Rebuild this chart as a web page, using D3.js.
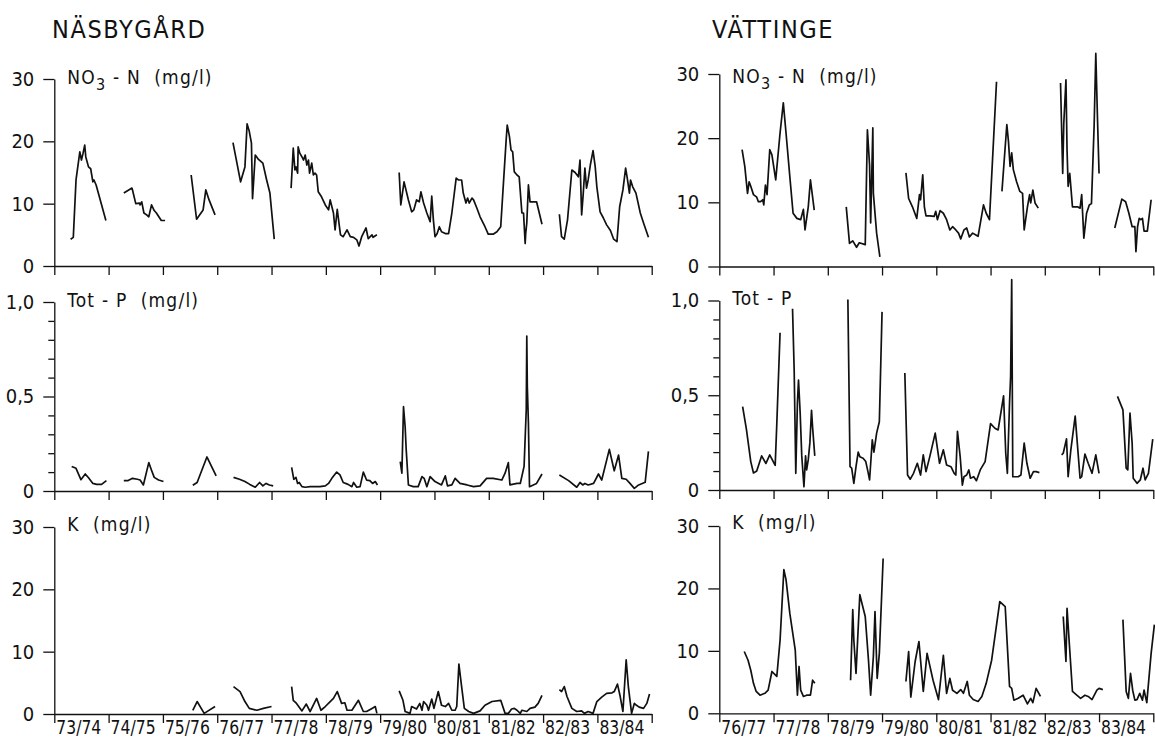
<!DOCTYPE html>
<html>
<head>
<meta charset="utf-8">
<title>Näsbygård / Vättinge</title>
<script src="https://d3js.org/d3.v7.min.js"></script>
<style>
  body { margin: 0; background: #fff; }
  svg text { font-family: "DejaVu Sans Condensed", "Liberation Sans Narrow", "DejaVu Sans", sans-serif; fill: #111; }
  .axis path, .axis line { stroke: #111; stroke-width: 1.3; }
  .series { fill: none; stroke: #111; stroke-width: 1.7; stroke-linejoin: round; }
  .plabel { white-space: pre; }
</style>
</head>
<body>
<script>
// seasons (t = years since start of 73/74)
var seasonsN = ["73/74","74/75","75/76","76/77","77/78","78/79","79/80","80/81","81/82","82/83","83/84"];
var seasonsV = ["76/77","77/78","78/79","79/80","80/81","81/82","82/83","83/84"];

var concTicks = [0, 10, 20, 30];
var concLabels = ["0", "10", "20", "30"];
var pTicks = [0, 0.5, 1];
var pLabels = ["0", "0,5", "1,0"];
var pMinor = [0.1, 0.2, 0.3, 0.4, 0.6, 0.7, 0.8, 0.9];

// Näsbygård NO3-N (mg/l), segments of [t, value]
var nasNO3 = [
  [[0.30,4.3],[0.35,4.6],[0.40,13.8],[0.47,18.3],[0.50,17],[0.53,18.1],[0.56,19.4],[0.58,17.5],[0.63,15.9],[0.67,15.6],[0.71,13.5],[0.73,13.8],[0.77,13],[0.95,7.3]],
  [[1.28,11.7],[1.43,12.5],[1.44,12.2],[1.50,10.0],[1.57,10.1],[1.58,9.8],[1.61,10.3],[1.65,8.5],[1.70,8.2],[1.74,7.9],[1.79,9.8],[1.84,8.9],[1.88,8.5],[1.97,7.3],[2.04,7.3]],
  [[2.52,14.6],[2.62,7.5],[2.74,9.0],[2.79,12.2],[2.85,10.6],[2.96,8.2]],
  [[3.29,19.8],[3.43,13.5],[3.51,15.9],[3.55,22.8],[3.59,21.6],[3.63,19.7],[3.65,10.8],[3.70,17.8],[3.76,17.1],[3.84,16.5],[3.91,13.8],[3.97,11.7],[4.05,4.3]],
  [[4.36,12.5],[4.40,18.9],[4.43,15.4],[4.45,15.9],[4.48,14.9],[4.49,19.1],[4.52,18.1],[4.56,17.5],[4.59,17.0],[4.62,17.8],[4.65,16.2],[4.68,17.0],[4.70,14.9],[4.74,16.5],[4.77,14.6],[4.80,14.9],[4.83,14.6],[4.86,11.9],[4.92,11.1],[4.99,9.8],[5.05,9.0],[5.08,10.6],[5.14,8.5],[5.17,5.8],[5.21,9.1],[5.25,6.3],[5.27,5.0],[5.32,4.7],[5.39,5.8],[5.45,4.7],[5.51,4.6],[5.57,4.2],[5.61,3.2],[5.66,4.7],[5.74,6.1],[5.78,4.4],[5.85,5.0],[5.87,4.6],[5.94,5.0]],
  [[6.35,15.0],[6.38,9.8],[6.44,13.5],[6.52,10.6],[6.58,8.7],[6.62,9.0],[6.67,10.6],[6.72,10.3],[6.75,11.9],[6.80,10.1],[6.86,8.5],[6.92,7.1],[6.95,11.2],[6.98,7.4],[7.01,4.7],[7.05,5.2],[7.09,6.3],[7.13,5.5],[7.20,5.2],[7.26,5.2],[7.32,8.5],[7.40,14.1],[7.44,13.8],[7.47,13.8],[7.50,13.8],[7.53,11.7],[7.58,10.1],[7.61,10.9],[7.64,10.1],[7.69,10.9],[7.72,10.6],[7.78,9.3],[7.84,7.9],[7.93,6.3],[7.99,5.1],[8.08,5.1],[8.15,5.5],[8.22,6.3],[8.27,13.3],[8.32,20.2],[8.34,22.6],[8.38,20.8],[8.41,18.6],[8.44,18.3],[8.47,15.1],[8.52,14.6],[8.56,14.3],[8.61,8.5],[8.64,8.5],[8.67,3.6],[8.68,5.2],[8.70,6.9],[8.73,13.0],[8.76,10.3],[8.82,10.3],[8.88,10.3],[8.98,6.7]],
  [[9.30,8.3],[9.34,4.7],[9.39,4.3],[9.45,7.4],[9.53,15.4],[9.59,15.0],[9.65,14.3],[9.68,17.0],[9.71,8.2],[9.74,11.7],[9.77,15.7],[9.80,12.5],[9.83,13.8],[9.87,16.2],[9.92,18.5],[9.96,15.9],[9.99,12.7],[10.05,8.7],[10.11,7.7],[10.17,6.6],[10.24,5.7],[10.30,4.3],[10.36,3.9],[10.41,9.5],[10.47,12.2],[10.52,15.7],[10.55,14.1],[10.59,11.7],[10.61,13.8],[10.65,12.7],[10.71,11.7],[10.79,8.5],[10.85,6.9],[10.94,4.6]]
];

// Näsbygård Tot-P (mg/l)
var nasP = [
  [[0.32,0.13],[0.40,0.12],[0.49,0.06],[0.57,0.09],[0.63,0.07],[0.71,0.04],[0.78,0.035],[0.87,0.035],[0.96,0.055]],
  [[1.28,0.055],[1.36,0.055],[1.44,0.067],[1.53,0.062],[1.58,0.058],[1.64,0.032],[1.74,0.15],[1.79,0.11],[1.84,0.072],[1.92,0.058],[2.01,0.05]],
  [[2.55,0.03],[2.63,0.045],[2.81,0.18],[2.98,0.08]],
  [[3.30,0.072],[3.41,0.062],[3.51,0.05],[3.60,0.035],[3.70,0.02],[3.78,0.045],[3.84,0.027],[3.90,0.04],[3.96,0.032],[4.03,0.027]],
  [[4.37,0.125],[4.41,0.062],[4.45,0.072],[4.48,0.04],[4.51,0.045],[4.56,0.023],[4.62,0.02],[4.71,0.023],[4.80,0.023],[4.89,0.023],[4.99,0.027],[5.05,0.04],[5.11,0.067],[5.20,0.10],[5.26,0.085],[5.32,0.045],[5.41,0.035],[5.48,0.023],[5.51,0.045],[5.57,0.02],[5.63,0.023],[5.69,0.10],[5.75,0.058],[5.81,0.055],[5.86,0.04],[5.91,0.05],[5.95,0.032]],
  [[6.37,0.155],[6.40,0.094],[6.43,0.446],[6.46,0.34],[6.48,0.217],[6.52,0.032],[6.61,0.023],[6.70,0.023],[6.77,0.076],[6.81,0.067],[6.86,0.023],[6.92,0.076],[7.01,0.05],[7.13,0.032],[7.20,0.08],[7.24,0.027],[7.32,0.032],[7.38,0.067],[7.47,0.04],[7.60,0.032],[7.72,0.023],[7.84,0.027],[7.96,0.067],[8.08,0.067],[8.24,0.058],[8.30,0.094],[8.36,0.15],[8.39,0.032],[8.52,0.04],[8.58,0.04],[8.65,0.13],[8.69,0.43],[8.70,0.82],[8.71,0.55],[8.73,0.36],[8.75,0.023],[8.82,0.032],[8.88,0.04],[8.98,0.09]],
  [[9.30,0.085],[9.47,0.055],[9.62,0.02],[9.68,0.045],[9.73,0.032],[9.77,0.04],[9.83,0.032],[9.93,0.04],[10.02,0.09],[10.08,0.058],[10.22,0.22],[10.31,0.107],[10.39,0.19],[10.45,0.067],[10.53,0.062],[10.60,0.04],[10.68,0.014],[10.76,0.032],[10.88,0.046],[10.94,0.21]]
];

// Näsbygård K (mg/l)
var nasK = [
  [[2.55,0.6],[2.63,2.0],[2.76,0.1],[2.96,1.2]],
  [[3.30,4.4],[3.42,3.6],[3.51,2.0],[3.59,0.9],[3.73,0.6],[3.85,0.9],[4.00,1.2]],
  [[4.37,4.4],[4.40,2.2],[4.46,1.7],[4.56,0.5],[4.64,1.6],[4.71,0.4],[4.83,2.5],[4.91,0.6],[4.99,1.2],[5.08,2.0],[5.14,2.5],[5.21,3.6],[5.29,1.7],[5.35,1.8],[5.39,0.6],[5.48,0.6],[5.60,2.2],[5.69,0.4],[5.75,0.4],[5.85,0.9],[5.91,1.2],[5.94,0.1]],
  [[6.35,3.7],[6.42,2.2],[6.46,0.4],[6.55,0.1],[6.58,1.2],[6.67,0.8],[6.73,1.7],[6.77,0.6],[6.80,2.0],[6.86,1.4],[6.89,0.6],[6.95,2.4],[6.99,0.9],[7.07,3.6],[7.13,1.4],[7.20,1.2],[7.26,1.7],[7.32,0.6],[7.38,0.6],[7.41,1.2],[7.45,8.0],[7.50,4.4],[7.55,0.9],[7.63,0.4],[7.72,0.1],[7.84,0.5],[7.93,1.4],[8.06,2.0],[8.22,2.2],[8.30,0.1],[8.36,0.1],[8.42,0.8],[8.47,0.9],[8.52,0.6],[8.58,0.1],[8.61,0.6],[8.70,0.4],[8.76,0.9],[8.85,1.1],[8.91,1.7],[8.98,3.0]],
  [[9.30,3.9],[9.34,3.6],[9.39,4.4],[9.44,2.8],[9.53,0.9],[9.62,0.4],[9.71,0.5],[9.76,0.1],[9.83,0.4],[9.92,0.1],[9.99,2.0],[10.08,2.7],[10.17,3.3],[10.27,3.4],[10.31,3.6],[10.37,4.8],[10.42,2.8],[10.47,0.4],[10.53,8.7],[10.57,4.4],[10.63,0.1],[10.68,1.7],[10.72,1.4],[10.77,1.1],[10.85,0.9],[10.91,1.7],[10.96,3.2]]
];

// Vättinge NO3-N (mg/l)
var vatNO3 = [
  [[3.42,18.2],[3.47,15.6],[3.52,11.4],[3.55,13.2],[3.58,12.5],[3.63,11.2],[3.69,10.8],[3.72,10.1],[3.76,10.1],[3.80,10.4],[3.82,9.6],[3.85,12.7],[3.88,11.2],[3.93,18.2],[3.97,17.4],[4.04,13.5],[4.12,20.8],[4.18,25.5],[4.23,20.8],[4.30,14.0],[4.36,8.3],[4.43,7.5],[4.50,7.3],[4.55,8.9],[4.58,5.7],[4.64,9.3],[4.68,13.5],[4.75,8.8]],
  [[5.34,9.3],[5.40,3.6],[5.46,4.0],[5.53,3.0],[5.58,3.7],[5.69,3.4],[5.73,21.3],[5.77,15.8],[5.79,6.8],[5.83,21.6],[5.84,11.4],[5.90,5.2],[5.96,1.5]],
  [[6.44,14.6],[6.49,10.6],[6.56,9.3],[6.64,7.5],[6.69,11.2],[6.71,10.4],[6.75,14.3],[6.78,9.3],[6.81,7.9],[6.88,7.9],[6.96,7.8],[6.99,8.6],[7.02,7.3],[7.07,8.7],[7.13,8.3],[7.19,7.3],[7.25,5.7],[7.30,6.2],[7.36,5.7],[7.41,5.2],[7.45,4.3],[7.51,5.7],[7.56,6.0],[7.61,4.6],[7.67,5.2],[7.73,4.9],[7.77,4.7],[7.87,9.6],[7.92,8.3],[7.98,7.3],[8.11,28.8]],
  [[8.21,11.7],[8.30,22.1],[8.33,19.5],[8.36,15.6],[8.39,17.7],[8.42,15.1],[8.48,13.2],[8.54,11.7],[8.59,11.4],[8.62,5.7],[8.68,9.3],[8.72,11.2],[8.74,9.9],[8.78,11.9],[8.82,9.9],[8.88,9.1]],
  [[9.29,28.6],[9.33,14.5],[9.35,22.3],[9.39,29.1],[9.41,18.2],[9.43,12.5],[9.46,14.5],[9.51,9.3],[9.60,9.3],[9.65,9.1],[9.68,11.2],[9.72,4.4],[9.77,8.3],[9.82,9.6],[9.86,9.8],[9.91,22.1],[9.94,33.2],[9.97,23.4],[10.00,14.5]],
  [[10.29,6.0],[10.42,10.5],[10.49,10.1],[10.55,8.3],[10.61,6.2],[10.66,6.2],[10.68,2.3],[10.71,6.2],[10.74,7.5],[10.77,7.3],[10.80,7.5],[10.83,5.5],[10.89,5.5],[10.96,10.4]]
];

// Vättinge Tot-P (mg/l)
var vatP = [
  [[3.43,0.44],[3.50,0.32],[3.58,0.15],[3.63,0.09],[3.69,0.10],[3.78,0.18],[3.86,0.14],[3.93,0.185],[4.03,0.13],[4.06,0.35],[4.12,0.83]],
  [[4.35,0.956],[4.38,0.635],[4.41,0.088],[4.44,0.46],[4.46,0.58],[4.49,0.41],[4.52,0.18],[4.56,0.017],[4.59,0.18],[4.61,0.106],[4.64,0.16],[4.67,0.25],[4.70,0.42],[4.72,0.33],[4.76,0.18]],
  [[5.37,1.005],[5.41,0.123],[5.44,0.115],[5.48,0.035],[5.52,0.123],[5.56,0.2],[5.59,0.176],[5.65,0.168],[5.70,0.15],[5.74,0.097],[5.77,0.053],[5.82,0.265],[5.85,0.2],[5.90,0.3],[5.95,0.36],[6.00,0.94]],
  [[6.42,0.617],[6.47,0.079],[6.52,0.057],[6.58,0.088],[6.65,0.141],[6.71,0.079],[6.76,0.185],[6.81,0.097],[6.88,0.176],[6.98,0.3],[7.06,0.141],[7.13,0.212],[7.19,0.132],[7.27,0.123],[7.33,0.088],[7.36,0.079],[7.39,0.31],[7.44,0.176],[7.48,0.026],[7.51,0.07],[7.56,0.079],[7.60,0.106],[7.63,0.062],[7.69,0.07],[7.74,0.049],[7.81,0.106],[7.90,0.15],[8.00,0.35],[8.08,0.326],[8.14,0.317],[8.24,0.497],[8.28,0.194],[8.31,0.088],[8.35,0.459],[8.37,0.6],[8.39,1.11],[8.41,0.07],[8.45,0.07],[8.51,0.07],[8.56,0.079],[8.62,0.247],[8.67,0.141],[8.73,0.062],[8.79,0.097],[8.84,0.097],[8.90,0.092]],
  [[9.31,0.185],[9.34,0.194],[9.40,0.27],[9.43,0.07],[9.48,0.212],[9.56,0.39],[9.65,0.062],[9.68,0.07],[9.74,0.19],[9.80,0.141],[9.87,0.088],[9.94,0.185],[10.00,0.088]],
  [[10.34,0.494],[10.44,0.423],[10.50,0.115],[10.53,0.106],[10.57,0.406],[10.61,0.247],[10.63,0.062],[10.70,0.035],[10.76,0.053],[10.81,0.115],[10.85,0.053],[10.91,0.088],[10.99,0.268]]
];

// Vättinge K (mg/l)
var vatK = [
  [[3.46,9.9],[3.53,8.5],[3.58,6.9],[3.63,4.8],[3.68,3.5],[3.75,2.9],[3.84,3.2],[3.90,3.7],[3.97,6.7],[4.06,5.9],[4.12,11.7],[4.19,23.0],[4.23,21.4],[4.30,16.0],[4.40,10.1],[4.44,2.9],[4.47,7.5],[4.50,3.7],[4.55,2.7],[4.61,2.9],[4.68,2.9],[4.72,5.3],[4.76,4.8]],
  [[5.42,5.3],[5.46,16.6],[5.48,11.7],[5.52,6.4],[5.59,19.0],[5.69,15.5],[5.75,8.5],[5.79,2.9],[5.84,9.1],[5.87,16.3],[5.91,5.6],[5.95,9.6],[6.02,24.8]],
  [[6.44,5.1],[6.49,9.9],[6.53,2.6],[6.61,8.3],[6.68,11.5],[6.76,3.5],[6.83,9.6],[6.94,5.3],[7.04,2.2],[7.13,9.3],[7.19,3.2],[7.25,5.6],[7.30,3.7],[7.38,3.2],[7.45,3.8],[7.50,3.2],[7.57,5.1],[7.61,2.9],[7.68,2.2],[7.77,1.9],[7.84,2.7],[7.92,4.8],[8.02,8.5],[8.17,17.9],[8.27,17.1],[8.35,4.3],[8.39,4.0],[8.43,2.1],[8.51,2.4],[8.60,2.9],[8.68,1.5],[8.74,2.4],[8.78,1.7],[8.84,4.0],[8.92,2.7]],
  [[9.34,15.5],[9.39,8.3],[9.41,16.8],[9.46,10.1],[9.51,3.5],[9.59,2.9],[9.66,2.4],[9.74,2.9],[9.80,2.7],[9.87,2.2],[9.96,3.7],[10.00,4.0],[10.07,3.8]],
  [[10.44,15.0],[10.50,3.5],[10.54,2.4],[10.58,6.4],[10.62,3.7],[10.66,2.1],[10.70,2.2],[10.75,3.2],[10.80,2.1],[10.83,3.7],[10.88,1.7],[10.96,9.6],[11.02,14.2]]
];

var W = 1155, H = 739;
var svg = d3.select("body").append("svg").attr("width", W).attr("height", H);

// column and row layout (pixels)
var cols = [
  { title: "NÄSBYGÅRD", tx: 52, seasons: seasonsN, t0: 0, x0: 54.3, x1: 651.7 },
  { title: "VÄTTINGE", tx: 712, seasons: seasonsV, t0: 3, x0: 719.3, x1: 1153.3 }
];
var rows = [
  { key: "no3", label: ["NO", "3", " - N  (mg/l)"], max: 30, ticks: concTicks, labels: concLabels, y: [[266, 79], [266.5, 74]], ly: [84, 83] },
  { key: "p", label: ["Tot - P  (mg/l)"], labelR: ["Tot - P"], max: 1, ticks: pTicks, labels: pLabels, minor: pMinor, y: [[491, 302], [490, 300.5]], ly: [307, 305] },
  { key: "k", label: ["K  (mg/l)"], max: 30, ticks: concTicks, labels: concLabels, y: [[714, 527], [713.3, 526]], ly: [531, 529] }
];
var seriesData = {
  no3: [nasNO3, vatNO3],
  p: [nasP, vatP],
  k: [nasK, vatK]
};

cols.forEach(function(col, ci) {
  svg.append("text")
    .attr("x", col.tx).attr("y", 38)
    .attr("font-size", 25)
    .attr("letter-spacing", 1.6)
    .text(col.title);

  var x = d3.scaleLinear().domain([col.t0, 11]).range([col.x0, col.x1]);
  var bounds = d3.range(col.t0, 12);

  rows.forEach(function(row, ri) {
    var y = d3.scaleLinear().domain([0, row.max]).range(row.y[ci]);
    var g = svg.append("g");

    // x axis
    g.append("g").attr("class", "axis")
      .attr("transform", "translate(0," + y(0) + ")")
      .call(d3.axisBottom(x).tickValues(bounds).tickSize(9).tickSizeOuter(0).tickFormat(""));

    // y axis
    var ya = g.append("g").attr("class", "axis")
      .attr("transform", "translate(" + col.x0 + ",0)");
    ya.call(d3.axisLeft(y).tickValues(row.ticks).tickSize(11).tickSizeOuter(0).tickPadding(9)
      .tickFormat(function(d, i) { return row.labels[i]; }));
    ya.selectAll("text").attr("font-size", 20).style("font-family", null);
    if (row.minor) {
      g.append("g").attr("class", "axis")
        .attr("transform", "translate(" + col.x0 + ",0)")
        .call(d3.axisLeft(y).tickValues(row.minor).tickSize(6).tickFormat(""))
        .select(".domain").remove();
    }
    g.selectAll(".axis text").attr("fill", "#111");

    // panel label
    var lab = (ci === 1 && row.labelR) ? row.labelR : row.label;
    var t = g.append("text")
      .attr("class", "plabel")
      .attr("x", col.x0 + 13).attr("y", row.ly[ci])
      .attr("font-size", 19).attr("letter-spacing", 1.2);
    if (lab.length === 3) {
      t.append("tspan").text(lab[0]);
      t.append("tspan").attr("dy", 6).attr("font-size", 16).text(lab[1]);
      t.append("tspan").attr("dy", -6).text(lab[2]);
    } else {
      t.text(lab[0]);
    }

    // series
    var line = d3.line()
      .x(function(d) { return x(d[0]); })
      .y(function(d) { return y(d[1]); });
    g.selectAll("path.series")
      .data(seriesData[row.key][ci])
      .enter().append("path")
      .attr("class", "series")
      .attr("d", line);

    // season labels on the bottom row
    if (ri === rows.length - 1) {
      g.selectAll("text.season")
        .data(col.seasons)
        .enter().append("text")
        .attr("class", "season")
        .attr("x", function(d, i) { return x(col.t0 + i) + 2; })
        .attr("y", 734)
        .attr("font-size", 20)
        .attr("textLength", 45)
        .attr("lengthAdjust", "spacingAndGlyphs")
        .text(function(d) { return d; });
    }
  });
});
</script>
</body>
</html>
